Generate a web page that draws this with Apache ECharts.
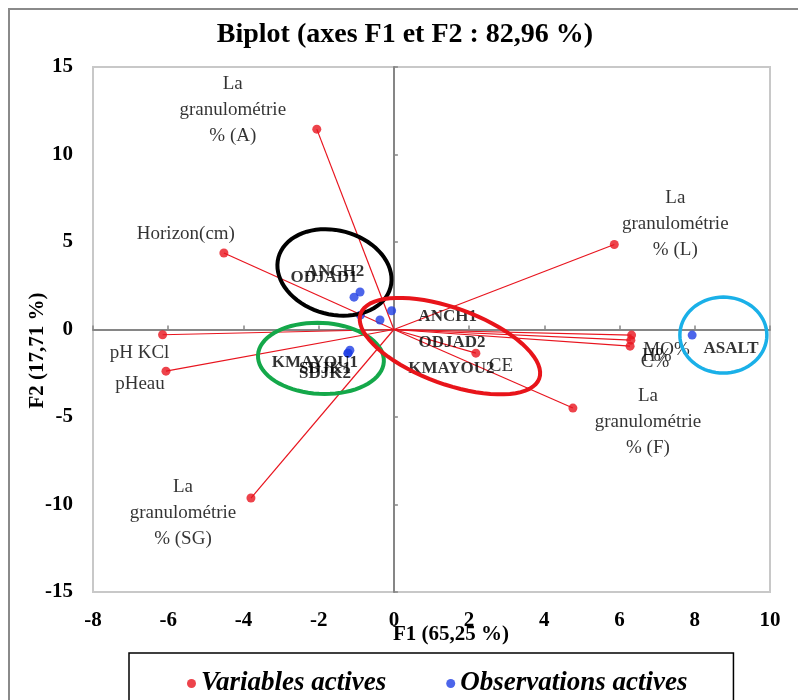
<!DOCTYPE html>
<html><head><meta charset="utf-8">
<script src="https://cdn.jsdelivr.net/npm/echarts@6/dist/echarts.min.js"></script>
<style>html,body{margin:0;padding:0;background:#fff}#c{width:798px;height:700px}</style>
</head><body><div id="c"></div><script>
// ---- data ----
const varNames = ['La\ngranulométrie\n% (A)','Horizon(cm)','pH KCl','pHeau','La\ngranulométrie\n% (SG)','La\ngranulométrie\n% (L)','CE','La\ngranulométrie\n% (F)','MO%','H%','C%'];
const varF1 = [-2.05,-4.52,-6.15,-6.06,-3.80,5.86,2.18,4.76,6.32,6.30,6.28];
const varF2 = [11.45,4.37,-0.30,-2.38,-9.63,4.86,-1.35,-4.49,-0.32,-0.61,-0.95];
const obsNames = ['ANCH2','ODJAD1','KMAYOU2','ODJAD2','ANCH1','KMAYOU1','SDJK1','SDJK2','ASALT'];
const obsF1 = [-0.90,-1.06,-0.89,-0.37,-0.06,-1.17,-1.22,-1.22,7.93];
const obsF2 = [2.14,1.85,0.82,0.54,1.07,-1.18,-1.35,-1.35,-0.32];
const xTickLabels = [-8,-6,-4,-2,0,2,4,6,8,10];
const yTickLabels = [-15,-10,-5,0,5,10,15];
const seriesNames = ['Variables actives','Observations actives'];

// ---- styles / label placement (pixels) ----
const varLabelOffset = [[-84,-19],[-38,-19],[-23,18],[-26,13],[-68,15],[61,-20],[25,13],[75,14],[35,15],[26,16],[25,16]];
const obsLabelOffset = [[-25,-20],[-30,-20],[91,53],[72,23],[56,6],[-35,12],[-23,15],[-23,20],[39,14]];
const ellipses = [ // annotation ellipses: data-space centre, pixel radii, rotation (deg)
  {c:[-1.58,3.26], rx:58, ry:42, rot:15, color:'#000000', w:4},
  {c:[-1.94,-1.65], rx:63, ry:35.5, rot:3, color:'#14a84a', w:4},
  {c:[1.49,-0.95], rx:95, ry:38, rot:20, color:'#e8141a', w:4},
  {c:[8.76,-0.32], rx:43.5, ry:38, rot:0, color:'#1ab0e8', w:3.5}
];
const FONT = '"Liberation Serif", "DejaVu Serif", serif';
const RED = '#e8141e', BLUE = '#1f3fe5';

const chart = echarts.init(document.getElementById('c'));
const xMin = xTickLabels[0], xMax = xTickLabels[xTickLabels.length-1];
const yMin = yTickLabels[0], yMax = yTickLabels[yTickLabels.length-1];

const varData = varF1.map((x,i)=>({
  value:[x,varF2[i]], name:varNames[i],
  label:{offset:varLabelOffset[i]}
}));
const obsData = obsF1.map((x,i)=>({
  value:[x,obsF2[i]], name:obsNames[i],
  label:{offset:obsLabelOffset[i]}
}));
const lineData = varF1.map((x,i)=>({coords:[[0,0],[x,varF2[i]]]}));

const option = {
  animation:false,
  title:{
    text:'Biplot (axes F1 et F2 : 82,96 %)',
    left:400, top:16, textAlign:'center',
    textStyle:{fontFamily:FONT, fontWeight:'bold', fontSize:28, color:'#000'}
  },
  grid:{left:93, right:28, top:67, bottom:108, show:true, borderColor:'#c8c8c8', borderWidth:2, backgroundColor:'transparent'},
  xAxis:[
    {type:'value', min:xMin, max:xMax, interval:2, position:'bottom',
     axisLine:{show:false, onZero:false}, axisTick:{show:false}, splitLine:{show:false},
     axisLabel:{margin:18, color:'#000', fontFamily:FONT, fontWeight:'bold', fontSize:21},
     name:'F1 (65,25 %)', nameLocation:'middle', nameGap:32, nameMoveOverlap:false,
     nameTextStyle:{fontFamily:FONT, fontWeight:'bold', fontSize:21, color:'#000', padding:[0,0,0,39]}},
    {type:'value', min:xMin, max:xMax, interval:2, position:'top',
     axisLine:{show:true, onZero:true, lineStyle:{color:'#868686', width:2}},
     axisTick:{show:true, inside:false, length:4, lineStyle:{color:'#868686', width:1.5}},
     axisLabel:{show:false}, splitLine:{show:false}}
  ],
  yAxis:[
    {type:'value', min:yMin, max:yMax, interval:5, position:'left',
     axisLine:{show:false, onZero:false}, axisTick:{show:false}, splitLine:{show:false},
     axisLabel:{margin:20, color:'#000', fontFamily:FONT, fontWeight:'bold', fontSize:21},
     name:'F2 (17,71 %)', nameLocation:'middle', nameGap:45, nameRotate:90, nameMoveOverlap:false,
     nameTextStyle:{fontFamily:FONT, fontWeight:'bold', fontSize:21, color:'#000', padding:[0,42,0,0]}},
    {type:'value', min:yMin, max:yMax, interval:5, position:'right',
     axisLine:{show:true, onZero:true, lineStyle:{color:'#868686', width:2}},
     axisTick:{show:true, inside:false, length:4, lineStyle:{color:'#868686', width:1.5}},
     axisLabel:{show:false}, splitLine:{show:false}}
  ],
  legend:{
    data:seriesNames.map((n,i)=>({name:n, itemStyle:{color:i?BLUE:RED}})),
    left:129, top:653, orient:'horizontal',
    icon:'circle', itemWidth:9, itemHeight:9, itemGap:60,
    borderColor:'#000', borderWidth:1.5, padding:[17,46,24,58],
    textStyle:{fontFamily:FONT, fontStyle:'italic', fontWeight:'bold', fontSize:27, color:'#000'}
  },
  series:[
    {type:'lines', coordinateSystem:'cartesian2d', xAxisIndex:0, yAxisIndex:0, silent:true,
     data:lineData, lineStyle:{color:RED, width:1.2, opacity:1}, z:2},
    {name:seriesNames[0], type:'scatter', xAxisIndex:0, yAxisIndex:0, data:varData,
     symbol:'circle', symbolSize:9, itemStyle:{color:RED}, z:3,
     label:{show:true, position:'inside', formatter:'{b}', align:'center', verticalAlign:'middle',
            fontFamily:FONT, fontSize:19, lineHeight:26, color:'#000', textBorderWidth:0, textBorderColor:'transparent'}},
    {name:seriesNames[1], type:'scatter', xAxisIndex:0, yAxisIndex:0, data:obsData,
     symbol:'circle', symbolSize:9, itemStyle:{color:BLUE}, z:4,
     label:{show:true, position:'inside', formatter:'{b}', align:'center', verticalAlign:'middle',
            fontFamily:FONT, fontWeight:'bold', fontSize:17, color:'#000', textBorderWidth:0, textBorderColor:'transparent'}}
  ]
};
chart.setOption(option);

function ellipsePts(e){
  const c = chart.convertToPixel({xAxisIndex:0, yAxisIndex:0}, e.c);
  const r = e.rot*Math.PI/180, pts=[];
  for(let k=0;k<72;k++){
    const t = k/72*2*Math.PI;
    const x = e.rx*Math.cos(t), y = e.ry*Math.sin(t);
    pts.push([c[0]+x*Math.cos(r)-y*Math.sin(r), c[1]+x*Math.sin(r)+y*Math.cos(r)]);
  }
  return pts;
}
const g = ellipses.map(e=>({type:'polygon', shape:{points:ellipsePts(e), smooth:0}, silent:true, z:10,
  style:{fill:'none', stroke:e.color, lineWidth:e.w}}));
g.push({type:'rect', shape:{x:9,y:9,width:800,height:700}, silent:true, z:0,
  style:{fill:'none', stroke:'#8a8a8a', lineWidth:2}});
chart.setOption({graphic:g});
</script></body></html>
